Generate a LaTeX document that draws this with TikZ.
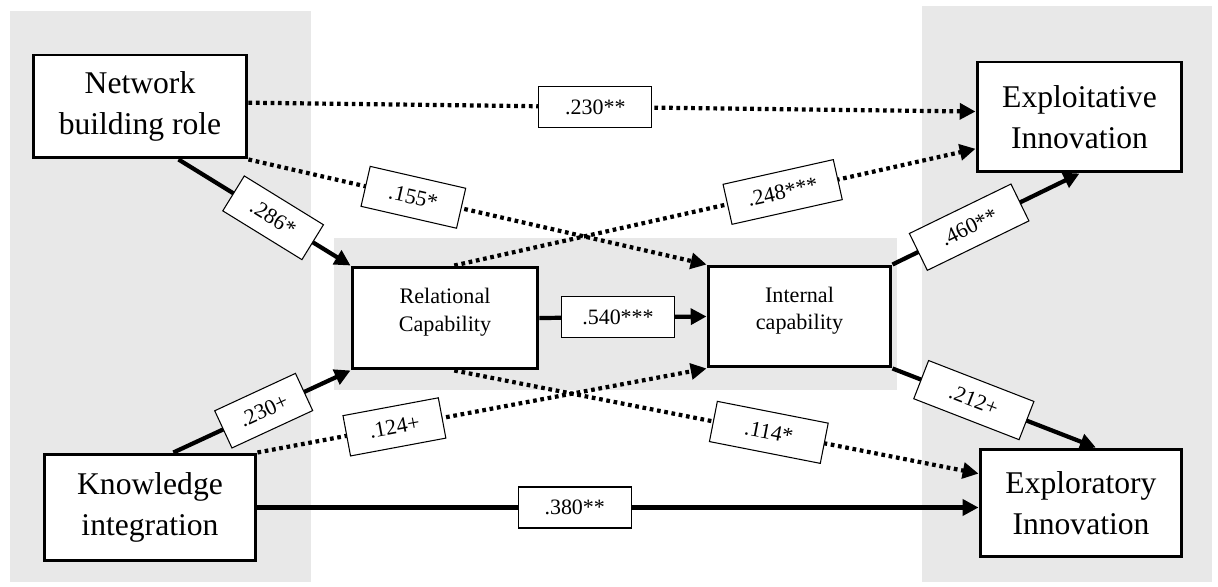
\documentclass[tikz,border=0pt]{standalone}
\usepackage{fontspec}
\setmainfont{Liberation Serif}
\usetikzlibrary{arrows.meta}
\definecolor{panelgray}{RGB}{232,232,232}

\begin{document}
\begin{tikzpicture}[x=0.02cm,y=-0.02cm,
    panel/.style={fill=panelgray},
    bigbox/.style={draw,line width=1.7pt,fill=white,align=center,inner sep=0pt,
        font=\fontsize{18}{23.5}\selectfont},
    smallbox/.style={bigbox,font=\fontsize{12.6}{15.8}\selectfont},
    coef/.style={draw,solid,line width=0.6pt,fill=white,inner sep=0pt,
        minimum width=2.26cm,minimum height=0.82cm,font=\fontsize{12.5}{14}\selectfont},
    solidarr/.style={line width=2.4pt,-{Triangle[length=9pt,width=9pt]}},
    dotarr/.style={solidarr,dash pattern=on 2.1pt off 2.1pt}]
            \useasboundingbox (0,0) rectangle (1218,587);

            % background panels
            \fill[panel] (10,11) rectangle (311,582);
            \fill[panel] (922,6) rectangle (1212,582);
            \fill[panel] (334,238) rectangle (897,390);

            % constructs
            \node[bigbox,minimum width=4.28cm,minimum height=2.06cm] (nbr) at (140,106.5) {Network\\building role};
            \node[bigbox,minimum width=4.24cm,minimum height=2.14cm] (kin) at (150,507.5) {Knowledge\\integration};
            \node[bigbox,minimum width=4.10cm,minimum height=2.20cm] (exploit) at (1079.5,117) {Exploitative\\Innovation};
            \node[bigbox,minimum width=4.04cm,minimum height=2.16cm] (explor) at (1081,503) {Exploratory\\Innovation};
            \node[smallbox,minimum width=3.72cm,minimum height=2.04cm] (rel) at (445,318) {Relational\\Capability\\[-0.23cm]};
            \node[smallbox,minimum width=3.66cm,minimum height=2.02cm] (inte) at (799.5,316.5) {Internal\\capability\\[-0.23cm]};

            % paths
            \draw[dotarr] (nbr.2) -- node[coef,pos=.477] {.230**} (exploit.177);
            \draw[dotarr] (nbr.south east) -- node[coef,sloped,pos=.36,minimum width=1.96cm] {.155*} (inte.north west);
            \draw[solidarr] (nbr.-54) -- node[coef,sloped,pos=.55,minimum width=1.86cm] {.286*} (rel.north west);
            \draw[dotarr] (rel.80) -- node[coef,sloped,pos=.63] {.248***} (exploit.197);
            \draw[solidarr] (rel.east) -- node[coef,pos=.47] {.540***} (inte.west);
            \draw[solidarr] (inte.north east) -- node[coef,sloped,pos=.41] {.460**} (exploit.south);
            \draw[solidarr] (inte.south east) -- node[coef,sloped,pos=.40] {.212+} (explor.75);
            \draw[dotarr] (rel.-80) -- node[coef,sloped,pos=.60] {.114*} (explor.164);
            \draw[solidarr] (kin.67) -- node[coef,sloped,pos=.51,minimum width=1.78cm] {.230+} (rel.south west);
            \draw[dotarr] (kin.north east) -- node[coef,sloped,pos=.305,minimum width=1.94cm] {.124+} (inte.south west);
            \draw[solidarr] (kin.east) -- node[coef,pos=.44] {.380**} (kin.east -| explor.west);
        \end{tikzpicture}
\end{document}
